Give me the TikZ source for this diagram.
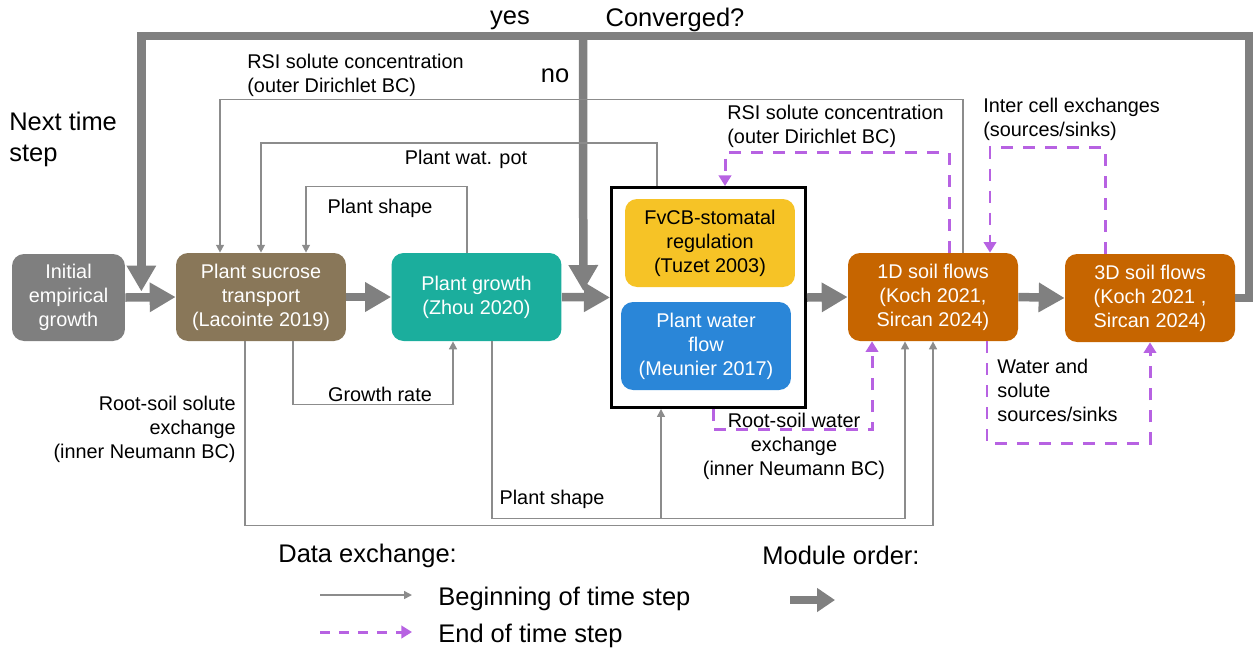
\documentclass[tikz,border=0pt]{standalone}
\usepackage{fontspec}
\setmainfont{Liberation Sans}
\usepackage{tikz}
\usetikzlibrary{arrows.meta}
\usetikzlibrary{calc}
\usepackage{xcolor}

\definecolor{initgray}{RGB}{127,127,127}
\definecolor{sucrosebrown}{RGB}{137,119,89}
\definecolor{growthteal}{RGB}{27,174,157}
\definecolor{stomyellow}{RGB}{246,195,38}
\definecolor{waterblue}{RGB}{42,134,216}
\definecolor{soilorange}{RGB}{198,101,0}
\definecolor{datagray}{RGB}{140,140,140}
\definecolor{ordergray}{RGB}{128,128,128}
\definecolor{endpurple}{RGB}{183,98,226}

\begin{document}
\begin{tikzpicture}[x=0.02cm, y=-0.02cm]
        % ================= 样式定义 =================
        \tikzset{
            % 模块样式:圆角色块,白字
            module/.style={rectangle, rounded corners=2.4mm, minimum width=3.4cm, minimum height=1.76cm, inner sep=1pt, align=center, text=white, font=\fontsize{11.3}{13.6}\selectfont},
            % 标签样式
            lbl/.style={inner sep=0pt, yshift=-0.05cm, font=\fontsize{11.3}{13.6}\selectfont},
            biglbl/.style={inner sep=0pt, yshift=-0.05cm, font=\fontsize{14.5}{17.6}\selectfont},
            % 数据交换:时间步开始(灰细线)
            datab/.style={draw=datagray, line width=0.85pt, -{Triangle[width=4.5pt, length=4.5pt]}},
            % 数据交换:时间步结束(紫色虚线)
            datae/.style={draw=endpurple, line width=1.7pt, dash pattern=on 0.24cm off 0.2cm, -{Triangle[width=7pt, length=6pt]}},
            % 模块顺序(灰粗箭头)
            order/.style={draw=ordergray, line width=0.17cm, -{Triangle[width=0.56cm, length=0.52cm]}}
        }

        \useasboundingbox (0,0) rectangle (1253,650);

        % ================= 模块 =================
        \node[module, fill=initgray, minimum width=2.26cm, minimum height=1.74cm] (init) at (68.5,297.5) {Initial\\empirical\\growth};
        \node[module, fill=sucrosebrown] (sucrose) at (261,297) {Plant sucrose\\transport\\(Lacointe 2019)};
        \node[module, fill=growthteal] (grow) at (476.5,297) {Plant growth\\(Zhou 2020)};
        \node[draw=black, line width=1.7pt, minimum width=3.88cm, minimum height=4.4cm, inner sep=0pt] (coupled) at (708.5,297.5) {};
        \node[module, fill=stomyellow, text=black] (fvcb) at (710,243) {FvCB-stomatal\\regulation\\(Tuzet 2003)};
        \node[module, fill=waterblue] (wflow) at (706,346) {Plant water\\flow\\(Meunier 2017)};
        \node[module, fill=soilorange] (soila) at (933,297) {1D soil flows\\(Koch 2021,\\Sircan 2024)};
        \node[module, fill=soilorange] (soilb) at (1150,298) {3D soil flows\\(Koch 2021 ,\\Sircan 2024)};

        % ================= 模块顺序 =================
        \draw[order] (init.east) -- (sucrose.west);
        \draw[order] (sucrose.east) -- (grow.west);
        \draw[order] (grow.east) -- (coupled.west);
        \draw[order] (coupled.east) -- (soila.west);
        \draw[order] (soila.east) -- (soilb.west);

        % 收敛判断
        \coordinate (nextstep) at ($(init.east)+(16,-6)$);
        \coordinate (nextiter) at ($(grow.east)+(21.5,-6)$);
        \coordinate (convtop) at (583,36);
        \draw[order] (soilb.east) -| (1249,36) -| (nextstep);
        \draw[order] (convtop) -- (nextiter);

        \node[biglbl] (yes) at (510,18) {yes};
        \node[biglbl] (conv) at (675,17) {Converged?};
        \node[biglbl] (no) at (555,73) {no};
        \node[biglbl, anchor=west, align=left] (next) at (9,137) {Next time\\step};

        % ================= 数据交换:时间步开始 =================
        \draw[datab] ([xshift=0.6cm]soila.north) -- ++(0,-153) -| ([xshift=-0.82cm]sucrose.north);
        \draw[datab] ([xshift=-1.03cm]coupled.north) -- ++(0,-43) -| (sucrose.north);
        \draw[datab] ([xshift=-0.19cm]grow.north) -- ++(0,-66) -| ([xshift=0.9cm]sucrose.north);
        \draw[datab] ([xshift=0.64cm]sucrose.south) -- ++(0,63) -| ([xshift=-0.47cm]grow.south);
        \draw[datab] ([xshift=-0.32cm]sucrose.south) -- ++(0,184) -| (soila.south);
        \draw[datab] ([xshift=0.31cm]grow.south) -- ++(0,177) -| ([xshift=-0.56cm]soila.south);
        \coordinate (shapebr) at ($(coupled.south)+(-47.5,109)$);
        \draw[datab] (shapebr) -- (shapebr |- coupled.south);

        \node[lbl, anchor=west, align=left] (rsia) at (247,73) {RSI solute concentration\\(outer Dirichlet BC)};
        \node[lbl] (watpot) at (466,157) {Plant wat. pot};
        \node[lbl] (shapea) at (380,206) {Plant shape};
        \node[lbl] (grate) at (380,392) {Growth rate};
        \node[lbl, anchor=east, align=right] (rootsol) at (236,427) {Root-soil solute\\exchange\\(inner Neumann BC)};
        \node[lbl] (shapeb) at (552,497) {Plant shape};

        % ================= 数据交换:时间步结束 =================
        \draw[datae] ([xshift=0.09cm]coupled.south) -- ++(0,21) -| ([xshift=-1.22cm]soila.south);
        \draw[datae] ([xshift=0.32cm]soila.north) -- ++(0,-100) -| ([xshift=0.33cm]coupled.north);
        \draw[datae] ([xshift=-0.9cm]soilb.north) -- ++(0,-106) -| ([xshift=1.14cm]soila.north);
        \draw[datae] ([xshift=1.08cm]soila.south) -- ++(0,102) -| (soilb.south);

        \node[lbl, align=center] (rootwat) at (794,444) {Root-soil water\\exchange\\(inner Neumann BC)};
        \node[lbl, anchor=west, align=left] (rsib) at (727,124) {RSI solute concentration\\(outer Dirichlet BC)};
        \node[lbl, anchor=west, align=left] (intercell) at (983,117) {Inter cell exchanges\\(sources/sinks)};
        \node[lbl, anchor=west, align=left] (srcsink) at (997,388) {Water and\\solute\\sources/sinks};

        % ================= 图例 =================
        \node[biglbl, anchor=west] (lgdata) at (278,553) {Data exchange:};
        \node[biglbl, anchor=west] (lgorder) at (762,553) {Module order:};
        \coordinate (lgba) at (320,595);
        \coordinate (lgbb) at (412,595);
        \coordinate (lgea) at (320,632);
        \coordinate (lgeb) at (412,632);
        \coordinate (lgoa) at (790,600);
        \coordinate (lgob) at (835,600);
        \draw[datab] (lgba) -- (lgbb);
        \draw[datae, dash pattern=on 0.2cm off 0.18cm] (lgea) -- (lgeb);
        \draw[order, line width=0.15cm, -{Triangle[width=0.46cm, length=0.36cm]}] (lgoa) -- (lgob);
        \node[biglbl, anchor=west] (lgbeg) at (438,596) {Beginning of time step};
        \node[biglbl, anchor=west] (lgend) at (438,633) {End of time step};

    \end{tikzpicture}
\end{document}
